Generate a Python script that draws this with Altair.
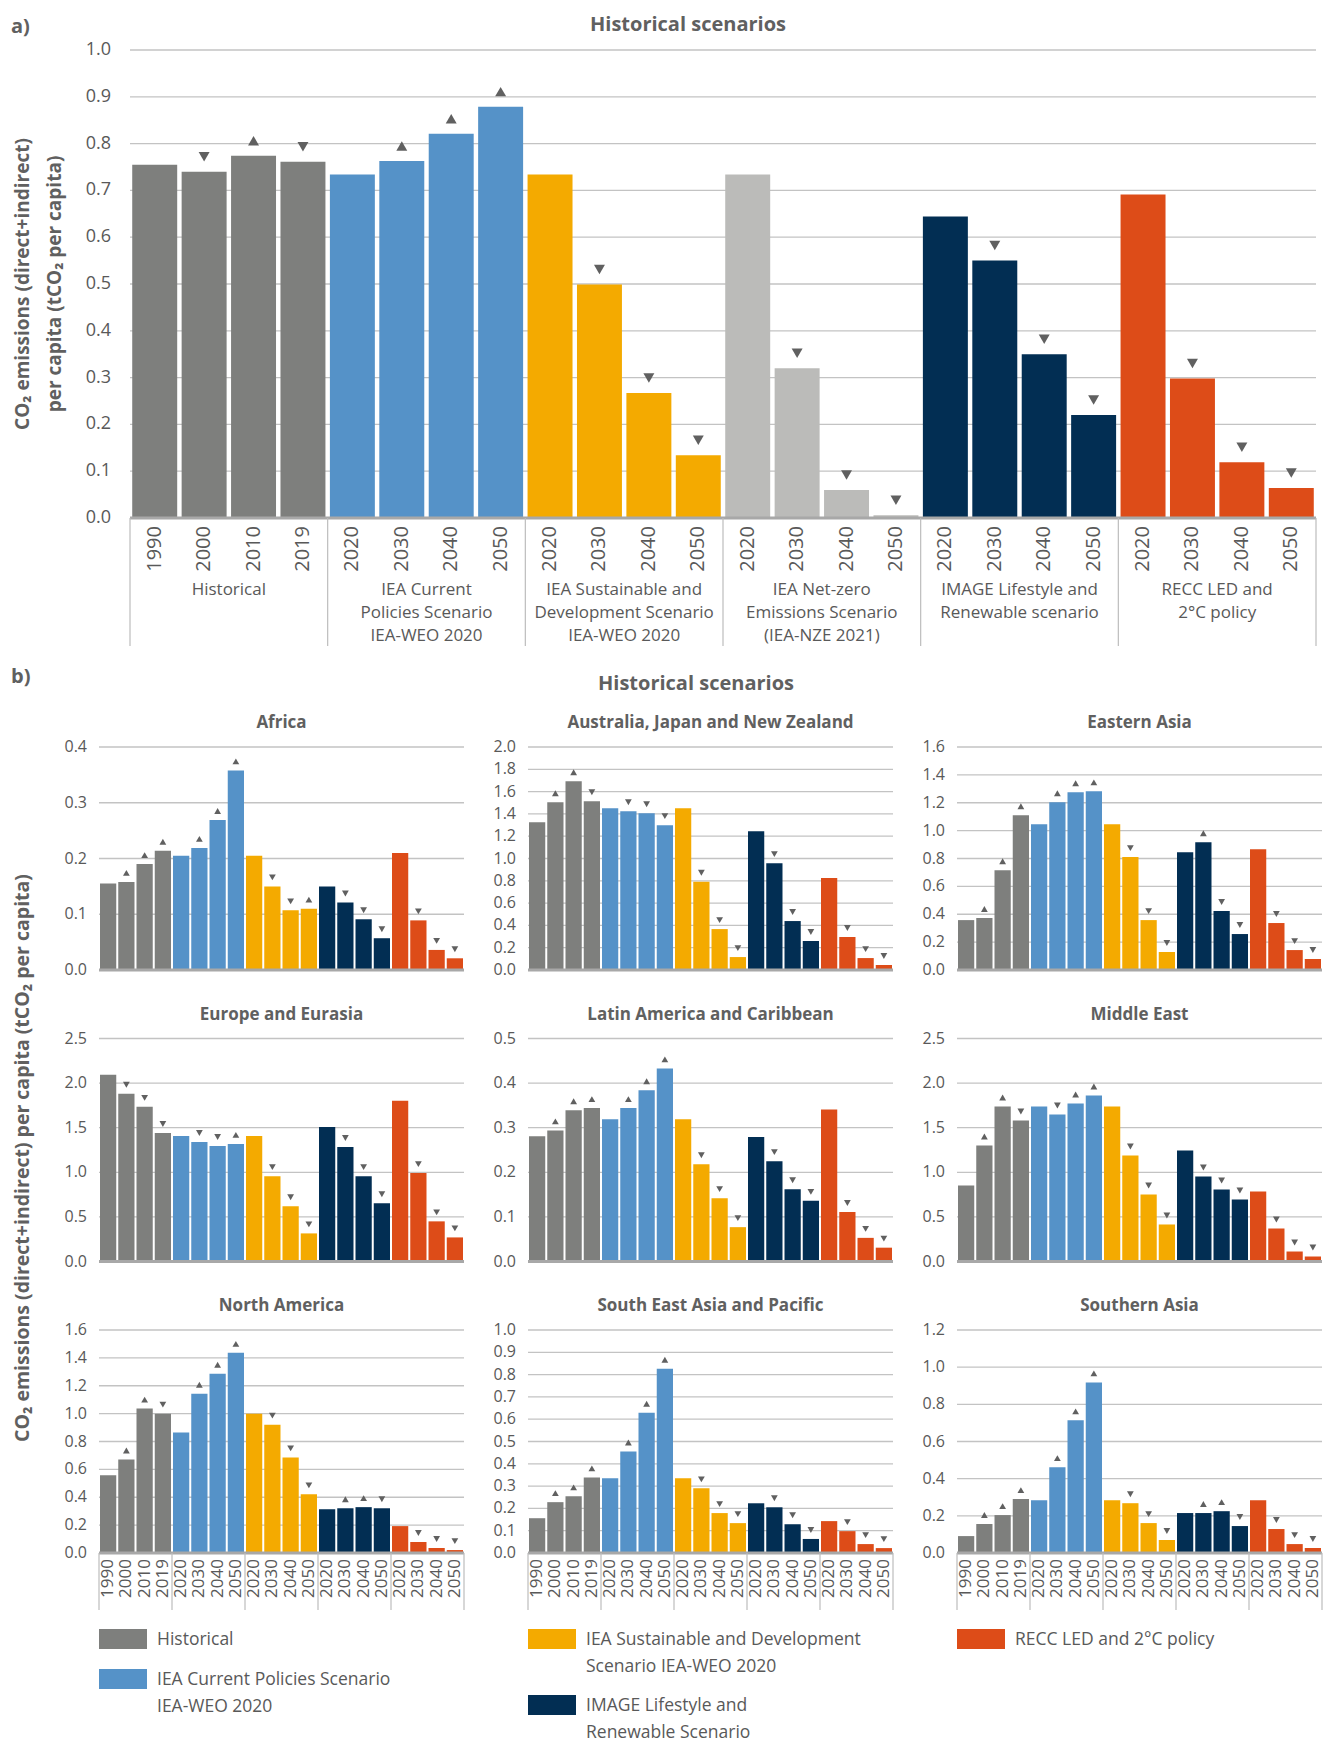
import altair as alt
import pandas as pd

FONT = "Open Sans"
TXT = "#595959"
HEAD = "#606060"
ARROW = "#606060"
GRID = "#c3c3c3"
BASE = "#a8a8a8"
SEP = "#bdbdbd"

# ---------------- data ----------------
hist_years = ["1990", "2000", "2010", "2019"]
scen_years = ["2020", "2030", "2040", "2050"]

scenarios_a = ["Historical", "CPS", "SDS", "NZE", "IMAGE", "RECC"]
scenarios_b = ["Historical", "CPS", "SDS", "IMAGE", "RECC"]
scenario_colors = ["#7e7f7d", "#5592c8", "#f4aa00", "#bbbbb9", "#022e53", "#dd4c18"]

group_labels_a = [
    "Historical",
    "IEA Current\nPolicies Scenario\nIEA-WEO 2020",
    "IEA Sustainable and\nDevelopment Scenario\nIEA-WEO 2020",
    "IEA Net-zero\nEmissions Scenario\n(IEA-NZE 2021)",
    "IMAGE Lifestyle and\nRenewable scenario",
    "RECC LED and\n2°C policy",
]

legend_keys = ["Historical", "CPS", "SDS", "IMAGE", "RECC"]
legend_labels = [
    "Historical",
    "IEA Current Policies Scenario\nIEA-WEO 2020",
    "IEA Sustainable and Development\nScenario IEA-WEO 2020",
    "IMAGE Lifestyle and\nRenewable Scenario",
    "RECC LED and 2°C policy",
]

# panel a: global values (tCO2 per capita)
global_values = [0.755, 0.740, 0.774, 0.761,
                 0.734, 0.763, 0.821, 0.879,
                 0.734, 0.499, 0.267, 0.134,
                 0.734, 0.320, 0.060, 0.006,
                 0.644, 0.550, 0.350, 0.220,
                 0.691, 0.298, 0.119, 0.064]
global_trend = ["", "down", "up", "down",
                "", "up", "up", "up",
                "", "down", "down", "down",
                "", "down", "down", "down",
                "", "down", "down", "down",
                "", "down", "down", "down"]
global_ticks = [0.0, 0.1, 0.2, 0.3, 0.4, 0.5, 0.6, 0.7, 0.8, 0.9, 1.0]

region_names = ["Africa", "Australia, Japan and New Zealand", "Eastern Asia",
                "Europe and Eurasia", "Latin America and Caribbean", "Middle East",
                "North America", "South East Asia and Pacific", "Southern Asia"]

africa = [0.155, 0.158, 0.190, 0.214, 0.205, 0.219, 0.269, 0.358, 0.205, 0.150,
          0.107, 0.110, 0.150, 0.121, 0.091, 0.057, 0.210, 0.089, 0.036, 0.021]
africa_trend = ["", "up", "up", "up", "", "up", "up", "up", "", "down",
                "down", "up", "", "down", "down", "down", "", "down", "down", "down"]

ajnz = [1.325, 1.504, 1.693, 1.513, 1.451, 1.424, 1.406, 1.299, 1.451, 0.791,
        0.367, 0.116, 1.245, 0.958, 0.439, 0.260, 0.824, 0.296, 0.107, 0.045]
ajnz_trend = ["", "up", "up", "down", "", "down", "down", "down", "", "down",
              "down", "down", "", "down", "down", "down", "", "down", "down", "down"]

eastern_asia = [0.358, 0.373, 0.716, 1.110, 1.046, 1.204, 1.275, 1.282, 1.046, 0.810,
                0.358, 0.129, 0.845, 0.917, 0.423, 0.258, 0.867, 0.337, 0.143, 0.079]
eastern_asia_trend = ["", "up", "up", "up", "", "up", "up", "up", "", "down",
                      "down", "down", "", "up", "down", "down", "", "down", "down", "down"]

europe = [2.095, 1.881, 1.734, 1.441, 1.408, 1.340, 1.295, 1.318, 1.408, 0.957,
          0.619, 0.315, 1.509, 1.284, 0.957, 0.653, 1.802, 0.991, 0.450, 0.270]
europe_trend = ["", "down", "down", "down", "", "down", "down", "up", "", "down",
                "down", "down", "", "down", "down", "down", "", "down", "down", "down"]

latin_america = [0.281, 0.294, 0.339, 0.344, 0.319, 0.344, 0.384, 0.433, 0.319, 0.218,
                 0.142, 0.077, 0.279, 0.225, 0.162, 0.136, 0.341, 0.111, 0.053, 0.031]
latin_america_trend = ["", "up", "up", "up", "", "up", "up", "up", "", "down",
                       "down", "down", "", "down", "down", "down", "", "down", "down", "down"]

middle_east = [0.852, 1.300, 1.738, 1.581, 1.738, 1.648, 1.771, 1.861, 1.738, 1.188,
               0.751, 0.415, 1.244, 0.953, 0.807, 0.695, 0.785, 0.370, 0.112, 0.056]
middle_east_trend = ["", "up", "up", "down", "", "down", "up", "up", "", "down",
                     "down", "down", "", "down", "down", "down", "", "down", "down", "down"]

north_america = [0.557, 0.671, 1.036, 1.000, 0.864, 1.143, 1.286, 1.436, 1.000, 0.921,
                 0.686, 0.421, 0.314, 0.321, 0.329, 0.321, 0.193, 0.079, 0.036, 0.021]
north_america_trend = ["", "up", "up", "down", "", "up", "up", "up", "", "down",
                       "down", "down", "", "up", "up", "down", "", "down", "down", "down"]

sea_pacific = [0.156, 0.228, 0.254, 0.339, 0.335, 0.455, 0.629, 0.826, 0.335, 0.290,
               0.179, 0.134, 0.223, 0.205, 0.129, 0.063, 0.143, 0.098, 0.040, 0.022]
sea_pacific_trend = ["", "up", "up", "up", "", "up", "up", "up", "", "down",
                     "down", "down", "", "down", "down", "down", "", "down", "down", "down"]

southern_asia = [0.091, 0.156, 0.204, 0.290, 0.284, 0.462, 0.714, 0.918, 0.284, 0.268,
                 0.161, 0.070, 0.215, 0.215, 0.225, 0.145, 0.284, 0.129, 0.048, 0.027]
southern_asia_trend = ["", "up", "up", "up", "", "up", "up", "up", "", "down",
                       "down", "down", "", "up", "up", "down", "", "down", "down", "down"]

region_values = [africa, ajnz, eastern_asia, europe, latin_america, middle_east,
                 north_america, sea_pacific, southern_asia]
region_trends = [africa_trend, ajnz_trend, eastern_asia_trend, europe_trend,
                 latin_america_trend, middle_east_trend, north_america_trend,
                 sea_pacific_trend, southern_asia_trend]
region_ymax = [0.4, 2.0, 1.6, 2.5, 0.5, 2.5, 1.6, 1.0, 1.2]
region_ystep = [0.1, 0.2, 0.2, 0.5, 0.1, 0.5, 0.2, 0.1, 0.2]

color_scale = alt.Scale(domain=scenarios_a, range=scenario_colors)


def bar_frame(values, trends, scenarios, frac):
    rows = []
    for i, (v, t) in enumerate(zip(values, trends)):
        s = scenarios[i // 4]
        yr = (hist_years if s == "Historical" else scen_years)[i % 4]
        rows.append({"x0": i + (1 - frac) / 2, "x1": i + 1 - (1 - frac) / 2,
                     "xc": i + 0.5, "value": v, "trend": t,
                     "scenario": s, "year": yr})
    return pd.DataFrame(rows)


def one(text):
    return pd.DataFrame({"t": [text]})


def text_mark(text, x, y, size, bold=False, align="left", angle=0, color=TXT,
              baseline="alphabetic", line_height=None):
    kw = dict(font=FONT, fontSize=size, fontWeight="bold" if bold else "normal",
              color=color, align=align, baseline=baseline, angle=angle)
    if line_height:
        kw["lineBreak"] = "\n"
        kw["lineHeight"] = line_height
    return alt.Chart(one(text)).mark_text(**kw).encode(
        x=alt.value(x), y=alt.value(y), text="t:N")


def bar_layers(df, n, x_start, ymax, yvals, label_size, label_pad, mk_size, mk_off):
    xs = alt.Scale(domain=[x_start, n], nice=False, zero=False)
    ys = alt.Scale(domain=[0, ymax], nice=False, zero=True)
    ticks = pd.DataFrame({"v": yvals, "lab": [f"{v:.1f}" for v in yvals]})
    grid = alt.Chart(ticks).mark_rule(color=GRID, strokeWidth=1.3).encode(
        x=alt.X(datum=0, scale=xs, axis=None), x2=alt.datum(n),
        y=alt.Y("v:Q", scale=ys, axis=None))
    labels = alt.Chart(ticks).mark_text(
        align="right", baseline="middle", dx=-label_pad, font=FONT,
        fontSize=label_size, color=TXT).encode(
        x=alt.X(datum=0, axis=None), y=alt.Y("v:Q", axis=None), text="lab:N")
    bars = alt.Chart(df).mark_rect().encode(
        x=alt.X("x0:Q", axis=None),
        x2="x1:Q",
        y=alt.Y("value:Q", axis=None),
        y2=alt.datum(0),
        color=alt.Color("scenario:N", scale=color_scale, legend=None),
    )
    base = alt.Chart(one("")).mark_rule(color=BASE, strokeWidth=3).encode(
        x=alt.X(datum=0, axis=None), x2=alt.datum(n), y=alt.Y(datum=0, axis=None))
    up = alt.Chart(df).transform_filter("datum.trend == 'up'").mark_point(
        shape="triangle-up", filled=True, color=ARROW, opacity=1, size=mk_size,
        yOffset=-mk_off).encode(x=alt.X("xc:Q", axis=None), y=alt.Y("value:Q", axis=None))
    down = alt.Chart(df).transform_filter("datum.trend == 'down'").mark_point(
        shape="triangle-down", filled=True, color=ARROW, opacity=1, size=mk_size,
        yOffset=-mk_off).encode(x=alt.X("xc:Q", axis=None), y=alt.Y("value:Q", axis=None))
    return [grid, labels, bars, base, up, down]


def separators(ngroups, y0, y1):
    df = pd.DataFrame({"b": [4 * k for k in range(ngroups + 1)]})
    return alt.Chart(df).mark_rule(color=SEP, strokeWidth=1.2).encode(
        x=alt.X("b:Q", axis=None), y=alt.value(y0), y2=alt.value(y1))


def year_labels(df, y, size):
    return alt.Chart(df).mark_text(
        angle=270, align="right", baseline="middle", font=FONT, fontSize=size,
        color=TXT).encode(x=alt.X("xc:Q", axis=None), y=alt.value(y), text="year:N")


# ---------------- panel a ----------------
PLOT_A, H_A, SHIFT_A = 1186, 468, 31
W_A = PLOT_A + SHIFT_A
x_start_a = -SHIFT_A / (PLOT_A / 24)
df_a = bar_frame(global_values, global_trend, scenarios_a, 0.91)
layers_a = bar_layers(df_a, 24, x_start_a, 1.0, global_ticks, 18, 19, 120, 15)

df_groups_a = pd.DataFrame({"gc": [4 * k + 2 for k in range(6)], "label": group_labels_a})
group_text = alt.Chart(df_groups_a).mark_text(
    align="center", baseline="top", lineBreak="\n", lineHeight=23, font=FONT,
    fontSize=17, color=TXT).encode(x=alt.X("gc:Q", axis=None), y=alt.value(H_A + 64),
                                   text="label:N")

panel_a = alt.layer(
    *layers_a,
    separators(6, H_A, H_A + 128),
    year_labels(df_a, H_A + 8, 20),
    group_text,
    text_mark("Historical scenarios", SHIFT_A + 558, -19, 20, bold=True, align="center",
              color=HEAD),
    text_mark("a)", SHIFT_A - 119, -17, 20, bold=True, color=HEAD),
    text_mark("CO₂ emissions (direct+indirect)", SHIFT_A - 107, H_A / 2, 19, bold=True,
              align="center", angle=270, color=HEAD, baseline="middle"),
    text_mark("per capita (tCO₂ per capita)", SHIFT_A - 75, H_A / 2, 19, bold=True,
              align="center", angle=270, color=HEAD, baseline="middle"),
).properties(width=W_A, height=H_A)

# ---------------- panel b ----------------
W_B, H_B = 365, 223
legend_col = [0, 0, 1, 1, 2]
legend_y = [86, 126, 86, 152, 86]

charts_b = []
for idx, name in enumerate(region_names):
    df = bar_frame(region_values[idx], region_trends[idx], scenarios_b, 0.89)
    nsteps = int(round(region_ymax[idx] / region_ystep[idx]))
    yvals = [round(region_ystep[idx] * k, 2) for k in range(nsteps + 1)]
    layers = bar_layers(df, 20, 0, region_ymax[idx], yvals, 16, 12, 46, 9)
    layers.append(text_mark(name, W_B / 2, -19, 17, bold=True, align="center", color=HEAD))
    row, col = divmod(idx, 3)
    if row == 2:
        layers.append(separators(5, H_B, H_B + 57))
        layers.append(year_labels(df, H_B + 6, 17))
        for k, key in enumerate(legend_keys):
            if legend_col[k] != col:
                continue
            c = H_B + legend_y[k]
            sw = alt.Chart(pd.DataFrame({"scenario": [key]})).mark_rect().encode(
                x=alt.value(0), x2=alt.value(48), y=alt.value(c - 10), y2=alt.value(c + 10),
                color=alt.Color("scenario:N", scale=color_scale, legend=None))
            layers.append(sw)
            layers.append(text_mark(legend_labels[k], 58, c + 6, 17.5, line_height=27))
    if idx == 0:
        layers.append(text_mark("b)", -88, -64, 20, bold=True, color=HEAD))
        layers.append(text_mark("Historical scenarios", 597, -57, 20, bold=True,
                                align="center", color=HEAD))
    if idx == 3:
        layers.append(text_mark("CO₂ emissions (direct+indirect) per capita (tCO₂ per capita)",
                                -76, H_B / 2 + 8, 19.5, bold=True, align="center",
                                angle=270, color=HEAD, baseline="middle"))
    charts_b.append(alt.layer(*layers).properties(width=W_B, height=H_B))

panel_b = alt.concat(*charts_b, columns=3, spacing={"row": 68.5, "column": 64},
                     bounds="flush")

chart = alt.concat(panel_a, panel_b, columns=1, spacing=20).properties(
    padding={"left": 3, "top": 7, "right": 0, "bottom": 2}
).configure_view(stroke=None)

chart.save("out.html", embed_options={"renderer": "svg", "actions": False})
